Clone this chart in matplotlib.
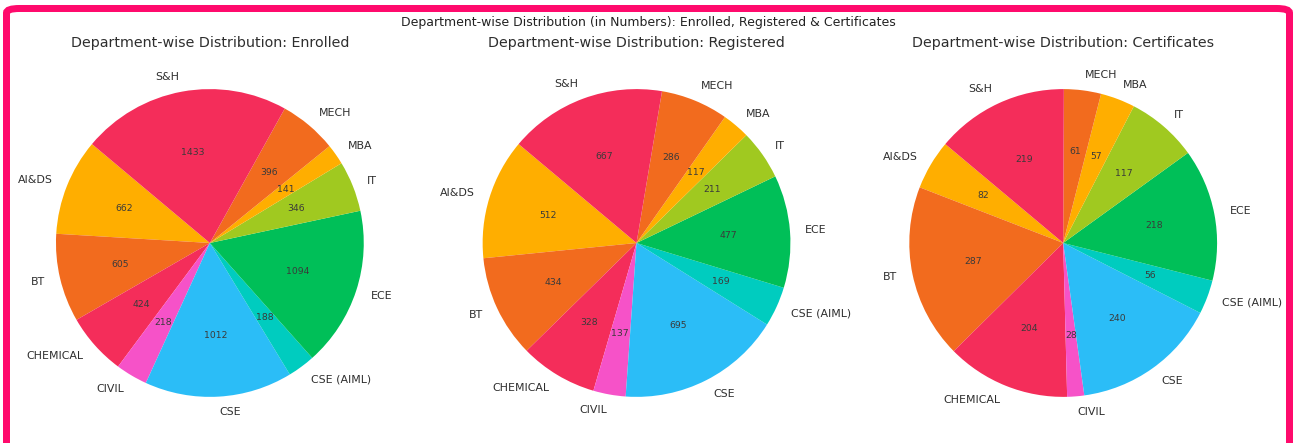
import numpy as np
import matplotlib
matplotlib.use("Agg")
import matplotlib.pyplot as plt
from matplotlib.patches import FancyBboxPatch

# ---- data (alphabetical department order, as drawn) ----
departments = ["AI&DS", "BT", "CHEMICAL", "CIVIL", "CSE", "CSE (AIML)",
               "ECE", "IT", "MBA", "MECH", "S&H"]
enrolled = [662, 605, 424, 218, 1012, 188, 1094, 346, 141, 396, 1433]
registered = [512, 434, 328, 137, 695, 169, 477, 211, 117, 286, 667]
certificates = [82, 287, 204, 28, 240, 56, 218, 117, 57, 61, 219]

panels = [("Enrolled", enrolled), ("Registered", registered),
          ("Certificates", certificates)]

# 8-colour cycle, repeats after ECE/IT
cycle = ["#FFAE00", "#F26B1E", "#F42D5A", "#F652C8",
         "#2BBDF7", "#00CCBF", "#00BF58", "#A0C920"]
colors = [cycle[i % len(cycle)] for i in range(len(departments))]

TEXT = "#2e2e2e"

fig, axes = plt.subplots(1, 3, figsize=(1296 / 72, 443 / 72), dpi=72)
plt.subplots_adjust(left=0.0135, right=0.9688, bottom=0.017, top=0.886, wspace=0.109)

for ax, (name, vals) in zip(axes, panels):
    total = sum(vals)
    wedges, labels, autotexts = ax.pie(
        vals, labels=departments, colors=colors, startangle=140,
        autopct=lambda p, t=total: f"{round(p * t / 100)}",
        pctdistance=0.6, labeldistance=1.1,
        textprops={"fontsize": 11, "color": TEXT})
    for t in autotexts:
        t.set_fontsize(9.3)
        t.set_color("#3a3a3a")
    ax.set_title(f"Department-wise Distribution: {name}", fontsize=14.3,
                 color=TEXT, pad=3.5)
    ax.set_aspect("equal")

fig.suptitle("Department-wise Distribution (in Numbers): Enrolled, Registered & Certificates",
             fontsize=12.5, color="#222222", y=0.965)

# pink rounded frame around the figure
frame = FancyBboxPatch((6.5 / 1296, -0.02), 1283 / 1296, 0.9925 - 6.5 / 443 + 0.02 + 0.003,
                       boxstyle="round,pad=0,rounding_size=0.01",
                       transform=fig.transFigure, fill=False,
                       edgecolor="#FF0A6C", linewidth=7, zorder=10)
fig.patches.append(frame)

fig.savefig("out.png", dpi=72, facecolor="white")
